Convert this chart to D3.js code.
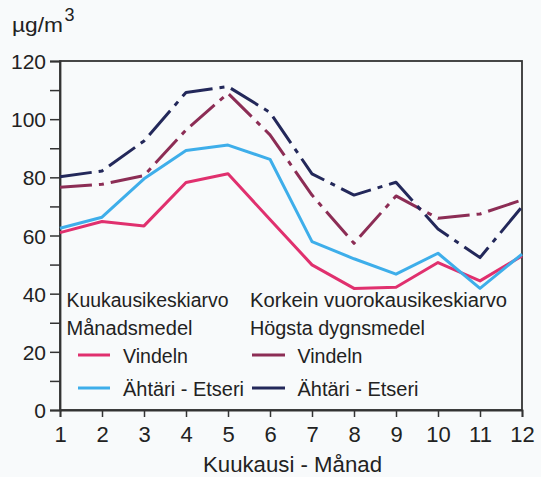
<!DOCTYPE html>
<html><head><meta charset="utf-8">
<script src="https://cdn.jsdelivr.net/npm/d3@7"></script>
<style>
html,body{margin:0;padding:0;background:#f8fafb;}
svg{display:block;}
text{font-family:"Liberation Sans",Arial,sans-serif;fill:#222;}
</style></head>
<body><svg id="c" width="541" height="477"></svg>
<script>
const months = [1,2,3,4,5,6,7,8,9,10,11,12];
const vindelnMean = [61, 64.8, 63.3, 78.2, 81.2, 65.5, 49.9, 41.8, 42.2, 50.7, 44.4, 53];
const ahtariMean  = [62.5, 66.3, 79.5, 89.2, 91.1, 86.2, 57.9, 52, 46.7, 53.9, 41.8, 53.6];
const vindelnMax  = [76.6, 77.6, 80.6, 96.3, 108.9, 94.6, 73.9, 57.3, 73.6, 65.9, 67.4, 72.2];
const ahtariMax   = [80.2, 82.2, 92.5, 109.2, 111.2, 102.3, 81.2, 73.9, 78.3, 62.2, 52.4, 69.9];
const yTicks = [0,20,40,60,80,100,120];
const yMinorTicks = [10,30,50,70,90,110];
const seriesNames = ["Vindeln","Ähtäri - Etseri"];
const groupTitles = [["Kuukausikeskiarvo","Månadsmedel"],["Korkein vuorokausikeskiarvo","Högsta dygnsmedel"]];

const svg = d3.select("#c");
const x = d3.scaleLinear().domain([1,12]).range([60,522]);
const y = d3.scaleLinear().domain([0,120]).range([410,61]);

const series = [
  {v: vindelnMean, c:"#e0306e", dash:null},
  {v: ahtariMean,  c:"#3eaeea", dash:null},
  {v: vindelnMax,  c:"#8c2d55", dash:"32,7,5,7"},
  {v: ahtariMax,   c:"#23285a", dash:"32,7,5,7"}
];

// frame
svg.append("rect").attr("x",60).attr("y",61).attr("width",462).attr("height",349)
  .attr("fill","none").attr("stroke","#333").attr("stroke-width",1.8);

// axes
const yAxis = d3.axisLeft(y).tickValues(yTicks).tickSize(10).tickPadding(4).tickFormat(d3.format("d"));
const gy = svg.append("g").attr("transform","translate(60,0)").call(yAxis);
gy.select(".domain").attr("stroke","#333").attr("stroke-width",1.8);
gy.selectAll(".tick line").attr("stroke","#333").attr("stroke-width",1.5);
gy.selectAll(".tick text").attr("font-size",21).attr("dy","0.36em")
  .style("font-family","Liberation Sans, Arial, sans-serif").attr("fill","#222");
const gym = svg.append("g").attr("transform","translate(60,0)")
  .call(d3.axisLeft(y).tickValues(yMinorTicks).tickSize(10).tickFormat(""));
gym.select(".domain").remove();
gym.selectAll(".tick line").attr("stroke","#333").attr("stroke-width",1.5);

const xAxis = d3.axisBottom(x).tickValues(months).tickSize(7).tickPadding(9).tickFormat(d3.format("d"));
const gx = svg.append("g").attr("transform","translate(0,410)").call(xAxis);
gx.select(".domain").attr("stroke","#333").attr("stroke-width",1.8);
gx.selectAll(".tick line").attr("stroke","#333").attr("stroke-width",1.5);
gx.selectAll(".tick text").attr("font-size",22)
  .style("font-family","Liberation Sans, Arial, sans-serif").attr("fill","#222");

// lines
const line = d3.line().x((d,i)=>x(months[i])).y(d=>y(d));
series.forEach(s=>{
  svg.append("path").datum(s.v).attr("d",line).attr("fill","none")
    .attr("stroke",s.c).attr("stroke-width",3).attr("stroke-linejoin","round")
    .attr("stroke-dasharray",s.dash);
});

// titles
svg.append("text").attr("x",12).attr("y",32).attr("font-size",21)
  .attr("textLength",51).attr("lengthAdjust","spacingAndGlyphs").text("µg/m");
svg.append("text").attr("x",64.5).attr("y",21).attr("font-size",18).text("3");
svg.append("text").attr("x",203).attr("y",472).attr("font-size",22)
  .attr("textLength",179).attr("lengthAdjust","spacingAndGlyphs").text("Kuukausi - Månad");

// legend
const colX = [66.5, 250];
const titleLen = [[162,126],[257,175]];
const titleY = [307,335];
groupTitles.forEach((g,gi)=>{
  g.forEach((t,ti)=>{
    svg.append("text").attr("x",colX[gi]).attr("y",titleY[ti]).attr("font-size",19.5)
      .attr("textLength",titleLen[gi][ti]).attr("lengthAdjust","spacingAndGlyphs").text(t);
  });
});
const legLineX = [[78,110],[252,285]];
const legTextX = [123,297.5];
const legY = [355,388];
const nameLen = [65,121];
series.forEach((s,i)=>{
  const gi = i<2?0:1, si = i%2;
  svg.append("line").attr("x1",legLineX[gi][0]).attr("x2",legLineX[gi][1])
    .attr("y1",legY[si]).attr("y2",legY[si]).attr("stroke",s.c).attr("stroke-width",3);
  svg.append("text").attr("x",legTextX[gi]).attr("y",legY[si]+7.5).attr("font-size",19.5)
    .attr("textLength",nameLen[si]).attr("lengthAdjust","spacingAndGlyphs").text(seriesNames[si]);
});
</script></body></html>
